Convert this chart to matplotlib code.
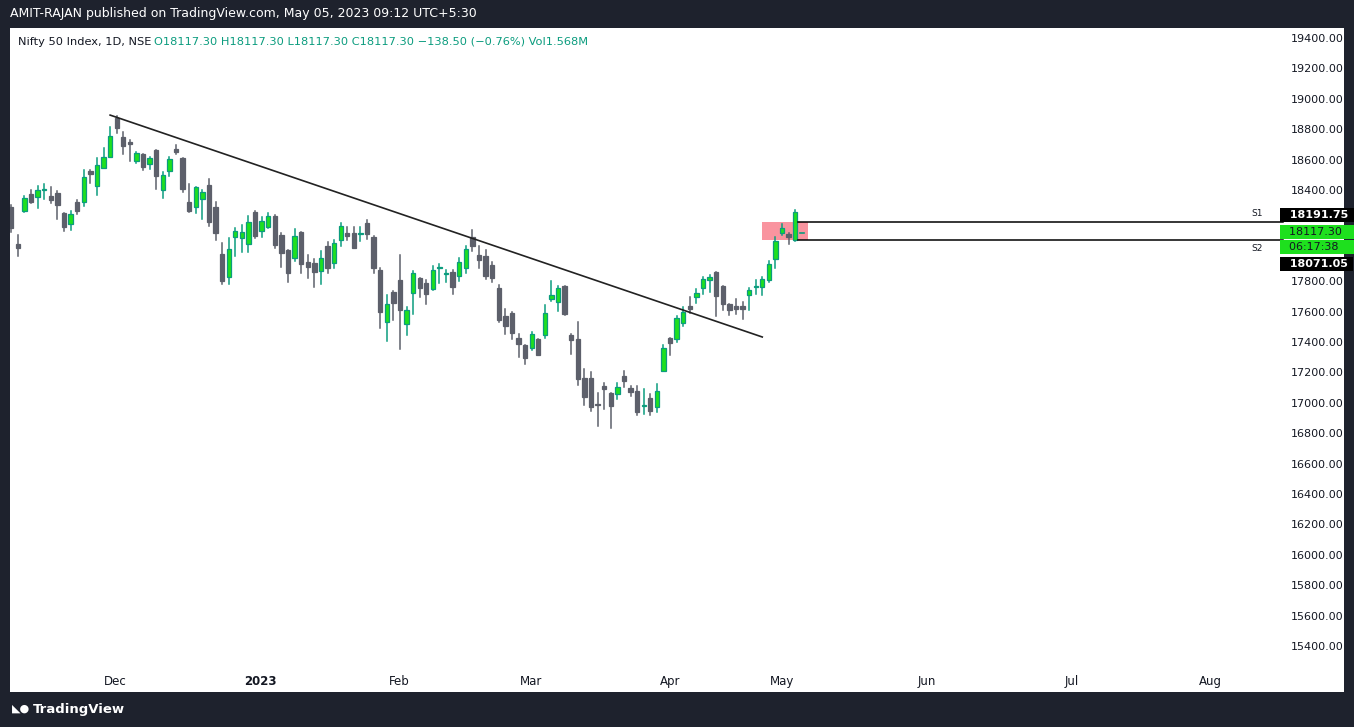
import matplotlib
matplotlib.use("Agg")
import matplotlib.pyplot as plt
from matplotlib.patches import Rectangle

opens = [18290,18045,18264,18374,18356,18398,18358,18380,18249,18174,18321,18323,18525,18428,18547,18619,18871,18746,18716,18593,
         18637,18569,18663,18398,18523,18667,18608,18319,18286,18338,18433,18288,17979,17825,18088,18082,18042,18255,18128,18159,
         18229,18104,18005,17950,18121,17924,17917,17865,18031,17917,18069,18115,18119,18113,18183,18093,17874,17534,17729,17808,
         17516,17720,17819,17788,17746,17884,17847,17860,17836,17889,18088,17972,17966,17906,17753,17569,17591,17424,17378,17358,
         17417,17444,17680,17661,17766,17446,17417,17161,17161,16994,17110,17064,17055,17176,17097,17077,16981,17029,16974,17207,
         17426,17417,17527,17637,17698,17757,17806,17860,17768,17650,17634,17634,17707,17759,17764,17810,17948,18117,18110,18073,18117.3]
highs = [18300,18104,18360,18400,18426,18439,18417,18393,18249,18262,18334,18531,18531,18608,18678,18812,18887,18779,18731,18652,
         18637,18619,18663,18518,18615,18694,18608,18439,18417,18400,18472,18323,18049,18082,18150,18170,18229,18262,18224,18246,
         18235,18115,18005,18141,18121,17972,17946,17999,18056,18071,18185,18154,18154,18159,18203,18097,17889,17709,17736,17972,
         17632,17865,17819,17808,17900,17911,17873,17873,17952,18031,18137,18031,18005,17926,17775,17617,17597,17450,17378,17463,
         17417,17641,17801,17768,17766,17450,17531,17220,17204,17062,17132,17064,17130,17207,17112,17110,17090,17055,17126,17380,
         17426,17571,17632,17694,17746,17825,17841,17860,17768,17650,17683,17663,17753,17808,17825,17933,18088,18176,18119,18268,18117.3]
lows = [18125,17968,18257,18312,18284,18341,18317,18211,18132,18137,18244,18295,18448,18367,18547,18619,18777,18639,18591,18578,
        18531,18540,18409,18350,18492,18635,18389,18257,18246,18207,18163,18071,17781,17779,17968,17994,17994,18082,18088,18152,
        18020,17895,17797,17935,17856,17823,17764,17779,17854,17889,18034,18071,18020,18064,18080,17852,17494,17409,17545,17356,
        17448,17586,17698,17652,17744,17786,17797,17718,17803,17856,18001,17889,17816,17797,17534,17455,17422,17303,17257,17347,
        17312,17428,17672,17606,17575,17323,17117,16985,16946,16849,16961,16832,17023,17106,17047,16919,16924,16917,16941,17207,
        17316,17402,17505,17593,17658,17716,17731,17573,17610,17577,17586,17553,17610,17716,17709,17794,17889,18106,18047,18066,18117.3]
closes = [18152,18020,18345,18323,18400,18404,18336,18303,18154,18240,18264,18483,18507,18562,18615,18753,18810,18692,18700,18643,
          18553,18608,18494,18496,18602,18652,18409,18264,18417,18385,18192,18119,17803,18010,18128,18121,18187,18099,18194,18227,
          18038,17988,17856,18095,17911,17891,17858,17950,17889,18049,18161,18100,18020,18117,18110,17889,17599,17650,17659,17612,
          17610,17854,17757,17718,17871,17891,17854,17764,17924,18009,18034,17939,17836,17823,17545,17507,17461,17389,17297,17450,
          17317,17588,17707,17753,17586,17411,17154,17040,16970,16983,17093,16981,17101,17145,17073,16941,16988,16948,17075,17358,
          17395,17556,17595,17619,17720,17812,17825,17705,17652,17610,17619,17619,17742,17766,17812,17911,18062,18150,18088,18253,18117.3]

month_labels = ["Dec", "2023", "Feb", "Mar", "Apr", "May", "Jun", "Jul", "Aug"]
month_pos = [15.8, 37.8, 58.9, 78.9, 100.0, 117.0, 139.0, 161.0, 182.0]
price_ticks = list(range(15400, 19401, 200))
hidden_ticks = [18200, 18000]  # covered by the price tags
trend_x = [15.0, 114.0]
trend_y = [18893, 17433]
s1, s2 = 18191.75, 18071.05
last = 18117.30
countdown = "06:17:38"

W, H = 1354, 727
fig = plt.figure(figsize=(W/100, H/100), dpi=100)
fig.patch.set_facecolor("#1e222d")
bg = fig.add_axes([10/W, 35/H, 1334/W, 664/H])
bg.set_facecolor("white")
bg.set_xticks([]); bg.set_yticks([])
for sp in bg.spines.values():
    sp.set_visible(False)
bg.set_zorder(0)

ax = fig.add_axes([10/W, 62/H, 1272/W, 637/H])
ax.set_zorder(1)
ax.patch.set_alpha(0)
for sp in ax.spines.values():
    sp.set_visible(False)

up_body, up_edge, dn = "#1ee01e", "#0b9c7e", "#5d606b"
for i, (o, h, l, c) in enumerate(zip(opens, highs, lows, closes)):
    if i == len(opens) - 1:
        ax.plot([i - 0.3, i + 0.3], [c, c], color=up_edge, lw=1.2)
        continue
    up = c >= o
    col = up_edge if up else dn
    ax.plot([i, i], [l, h], color=col, lw=1.1, zorder=2)
    b0, bh = min(o, c), max(abs(c - o), 4)
    ax.add_patch(Rectangle((i - 0.33, b0), 0.66, bh, facecolor=up_body if up else dn,
                           edgecolor=col, lw=0.9, zorder=3))

ax.plot(trend_x, trend_y, color="#222222", lw=1.2, zorder=4)
ax.add_patch(Rectangle((114.0, s2), 7.0, s1 - s2, facecolor="#f7707f", alpha=0.75,
                       edgecolor="none", zorder=1))
ax.plot([119.5, 193], [s1, s1], color="black", lw=1.1, zorder=4, clip_on=False)
ax.plot([119.5, 193], [s2, s2], color="black", lw=1.1, zorder=4, clip_on=False)
ax.text(190.0, s1 + 25, "S1", fontsize=6.5, ha="right", va="bottom", color="#131722")
ax.text(190.0, s2 - 25, "S2", fontsize=6.5, ha="right", va="top", color="#131722")

ax.set_xlim(-0.2, 192.9)
ax.set_ylim(15275, 19466)
ax.set_xticks(month_pos)
ax.set_xticklabels(month_labels, fontsize=8.5, color="#131722")
for t in ax.get_xticklabels():
    if t.get_text() == "2023":
        t.set_fontweight("bold")
ax.tick_params(axis="x", length=0, pad=7)
ax.yaxis.tick_right()
ax.set_yticks(price_ticks)
ax.set_yticklabels(["" if p in hidden_ticks else f"{p:.2f}" for p in price_ticks], fontsize=8, color="#131722")
ax.tick_params(axis="y", length=0, pad=6)

def tag(y, text, fc, tc, bold=False):
    ax.text(1.0, y, text, transform=ax.get_yaxis_transform(), fontsize=8, color=tc,
            va="center", ha="left", fontweight="bold" if bold else "normal",
            bbox=dict(boxstyle="square,pad=0.15", facecolor=fc, edgecolor="none"), zorder=10)
tag(18235, f"  {s1:.2f} ", "black", "white", True)
tag(18124, f"  {last:.2f}   ", "#1ee01e", "#131722")
tag(18025, f"  {countdown}    ", "#1ee01e", "#131722")
tag(17913, f"  {s2:.2f} ", "black", "white", True)

fig.text(10/W, 1 - 14/H, "AMIT-RAJAN published on TradingView.com, May 05, 2023 09:12 UTC+5:30",
         color="white", fontsize=9, va="center", ha="left")
hdr_y = 1 - 42/H
fig.text(18/W, hdr_y, "Nifty 50 Index, 1D, NSE", color="#131722", fontsize=8.2, va="center")
fig.text(154/W, hdr_y, "O18117.30 H18117.30 L18117.30 C18117.30 \u2212138.50 (\u22120.76%) Vol1.568M",
         color="#0b9c7e", fontsize=8.2, va="center")
fig.text(12/W, 1 - 709/H, "\u25e3\u25cf", color="white", fontsize=8, va="center")
fig.text(33/W, 1 - 709/H, "TradingView", color="white", fontsize=9.5, fontweight="bold", va="center")

fig.savefig("out.png", dpi=100, facecolor=fig.get_facecolor())
